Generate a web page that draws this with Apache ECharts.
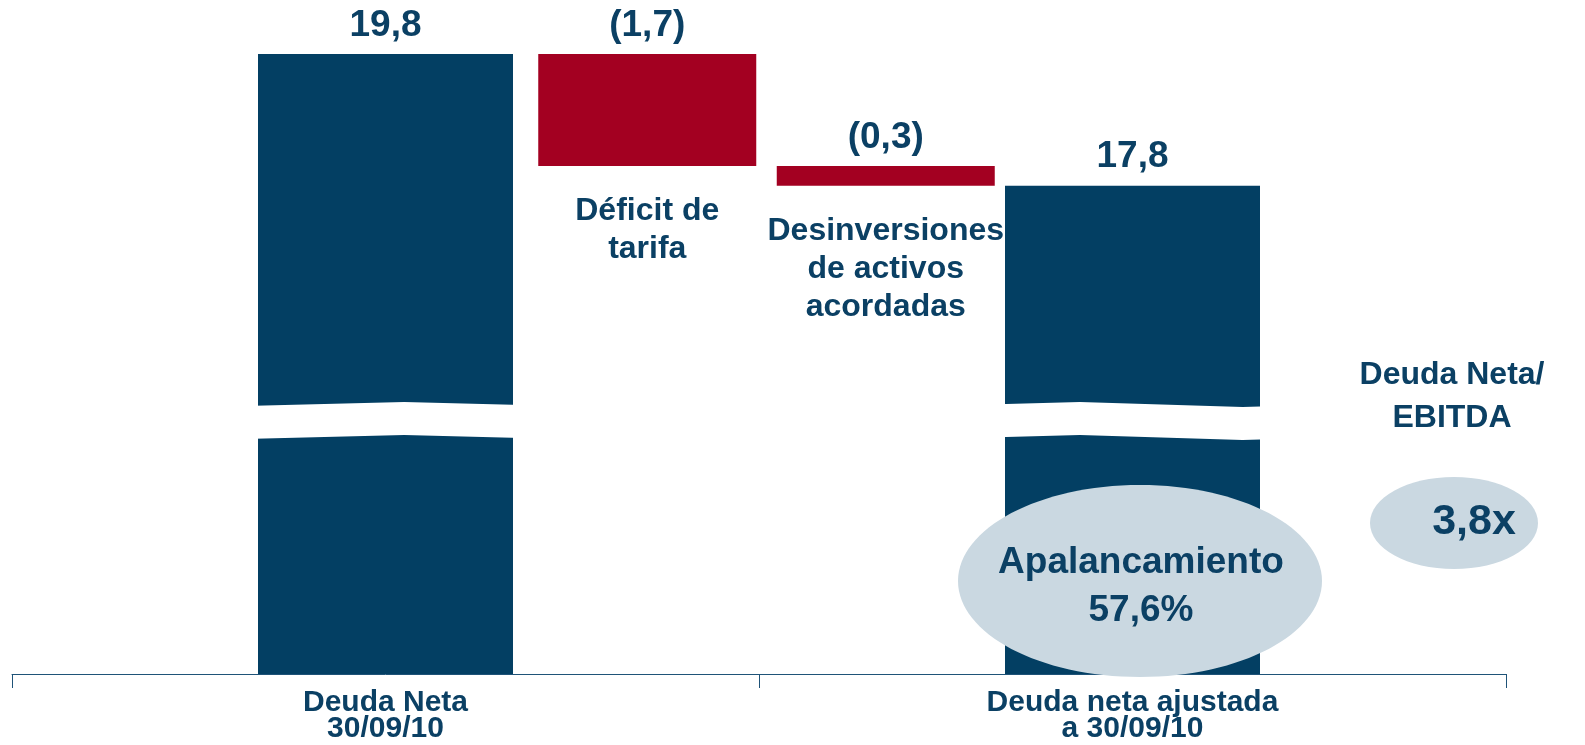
<!DOCTYPE html>
<html>
<head>
<meta charset="utf-8">
<script src="https://cdn.jsdelivr.net/npm/echarts@6/dist/echarts.min.js"></script>
<style>
  html, body { margin: 0; padding: 0; background: #fff; }
  #chart { width: 1585px; height: 745px; }
</style>
</head>
<body>
<div id="chart"></div>
<script>
// periods on the visible axis
var periods = ['Deuda Neta\n30/09/10', 'Deuda neta ajustada\na 30/09/10'];
var debtValues = [19.8, 17.8];
// adjustments between the two periods
var stepNames = ['Déficit de\ntarifa', 'Desinversiones\nde activos\nacordadas'];
var stepValues = [-1.7, -0.3];
// side notes
var leverageText = ['Apalancamiento', '57,6%'];
var ratioTitle = ['Deuda Neta/', 'EBITDA'];
var ratioValue = '3,8x';

var BLUE = '#033f63';
var RED = '#a30021';
var TEXT = '#0b4064';
var FONT = '"Liberation Sans", Arial, sans-serif';

var fmt = function (v) {
    var s = Math.abs(v).toFixed(1).replace('.', ',');
    return v < 0 ? '(' + s + ')' : s;
};

// 6 slots: empty, debt, step, step, debt, empty
var slots = [''].concat([periods[0]], stepNames, [periods[1]], ['']);
var blueData = ['-', debtValues[0], '-', '-', debtValues[1], '-'];
var baseData = ['-', '-'];
var redData = ['-', '-'];
var running = debtValues[0];
stepValues.forEach(function (v) {
    running = running + v;
    baseData.push(+running.toFixed(1));
    redData.push({ value: Math.abs(v), raw: v });
});
baseData.push('-', '-');
redData.push('-', '-');

var chart = echarts.init(document.getElementById('chart'));

var valueLabel = {
    show: true,
    position: 'top',
    distance: 10,
    color: TEXT,
    fontFamily: FONT,
    fontWeight: 'bold',
    fontSize: 37
};

var yBase = {
    type: 'value',
    min: 0,
    max: 19.8,
    axisLine: { show: false },
    axisTick: { show: false },
    axisLabel: { show: false },
    splitLine: { show: false },
    breaks: [{ start: 3.59, end: 14.48, gap: 0.5 }]
};

var option = {
    animation: false,
    grid: [
        { left: 12, right: 79, top: 54, bottom: 71, outerBoundsMode: 'none' },
        { left: 51, right: 103, top: 54, bottom: 71, outerBoundsMode: 'none' }
    ],
    xAxis: [{
        type: 'category',
        gridIndex: 0,
        data: periods,
        axisLine: { lineStyle: { color: '#1f5378', width: 1 } },
        axisTick: { show: true, length: 14, lineStyle: { color: '#1f5378', width: 1 } },
        axisLabel: {
            color: TEXT,
            fontFamily: FONT,
            fontWeight: 'bold',
            fontSize: 30,
            lineHeight: 26,
            margin: 16
        }
    }, {
        type: 'category',
        gridIndex: 0,
        data: slots,
        show: false
    }, {
        type: 'category',
        gridIndex: 1,
        data: slots,
        show: false
    }],
    yAxis: [
        Object.assign({
            gridIndex: 0,
            breakArea: {
                show: true,
                itemStyle: { color: '#fff', borderWidth: 0, opacity: 1 },
                zigzagAmplitude: 2.5,
                zigzagMinSpan: 120,
                zigzagMaxSpan: 220,
                zigzagZ: 100
            }
        }, yBase),
        Object.assign({
            gridIndex: 1,
            breakArea: { show: false }
        }, yBase)
    ],
    series: [{
        name: 'Deuda',
        type: 'bar',
        xAxisIndex: 1,
        yAxisIndex: 0,
        barWidth: 255,
        data: blueData,
        itemStyle: { color: BLUE },
        label: Object.assign({ formatter: function (p) { return fmt(p.value); } }, valueLabel)
    }, {
        name: 'base',
        type: 'bar',
        xAxisIndex: 2,
        yAxisIndex: 1,
        stack: 'step',
        barWidth: 218,
        data: baseData,
        itemStyle: { color: 'transparent' },
        label: {
            show: true,
            position: 'insideTop',
            distance: 26,
            formatter: function (p) { return p.name; },
            color: TEXT,
            fontFamily: FONT,
            fontWeight: 'bold',
            fontSize: 32,
            lineHeight: 38
        }
    }, {
        name: 'Ajustes',
        type: 'bar',
        xAxisIndex: 2,
        yAxisIndex: 1,
        stack: 'step',
        barWidth: 218,
        data: redData,
        itemStyle: { color: RED },
        label: Object.assign({ formatter: function (p) { return fmt(p.data.raw); } }, valueLabel)
    }],
    graphic: [{
        type: 'ellipse',
        shape: { cx: 1140, cy: 581, rx: 182, ry: 96 },
        style: { fill: '#cad8e1' },
        z: 200
    }, {
        type: 'text',
        x: 1141, y: 587,
        style: {
            text: leverageText.join('\n'),
            fill: TEXT,
            font: 'bold 37px ' + FONT,
            lineHeight: 48,
            align: 'center',
            verticalAlign: 'middle'
        },
        z: 201
    }, {
        type: 'ellipse',
        shape: { cx: 1454, cy: 523, rx: 84, ry: 46 },
        style: { fill: '#cad8e1' },
        z: 200
    }, {
        type: 'text',
        x: 1474, y: 522,
        style: {
            text: ratioValue,
            fill: TEXT,
            font: 'bold 43px ' + FONT,
            align: 'center',
            verticalAlign: 'middle'
        },
        z: 201
    }, {
        type: 'text',
        x: 1452, y: 397,
        style: {
            text: ratioTitle.join('\n'),
            fill: TEXT,
            font: 'bold 32px ' + FONT,
            lineHeight: 43,
            align: 'center',
            verticalAlign: 'middle'
        },
        z: 201
    }]
};

chart.setOption(option);
</script>
</body>
</html>
